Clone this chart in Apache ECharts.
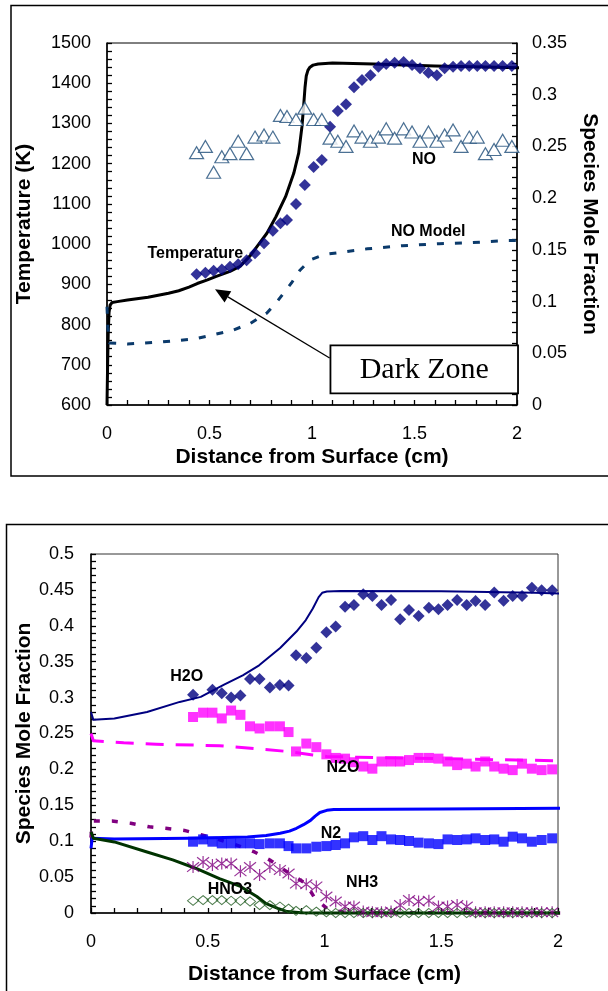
<!DOCTYPE html>
<html>
<head>
<meta charset="utf-8">
<script src="https://cdn.jsdelivr.net/npm/echarts@6/dist/echarts.min.js"></script>
<style>
  html, body { margin: 0; padding: 0; background: #fff; }
  #chart { width: 608px; height: 991px; }
</style>
</head>
<body>
<div id="chart"></div>
<script>
// Probe positions (cm from the burning surface) shared by every measured profile
const xPos = [0.437, 0.48, 0.52, 0.56, 0.6, 0.64, 0.681, 0.722, 0.766, 0.809,
              0.846, 0.878, 0.922, 0.965, 1.008, 1.048, 1.088, 1.126, 1.166, 1.205,
              1.244, 1.285, 1.324, 1.362, 1.403, 1.447, 1.488, 1.527, 1.568, 1.609,
              1.647, 1.688, 1.727, 1.767, 1.806, 1.846, 1.888, 1.93, 1.975];

// ---- Upper panel: temperature (K) and NO mole fraction ----
const tempMeasured = [925, 929, 934, 937, 944, 950, 960, 977, 1002, 1033,
                      1052, 1060, 1100, 1147, 1192, 1209, 1292, 1331, 1348, 1390,
                      1408, 1420, 1441, 1448, 1451, 1453, 1445, 1437, 1426, 1420,
                      1437, 1441, 1443, 1443, 1443, 1443, 1443, 1443, 1443];
const noMeasured = [0.244, 0.250, 0.225, 0.240, 0.243, 0.255, 0.243, 0.259, 0.261, 0.259,
                    0.280, 0.279, 0.276, 0.287, 0.276, 0.276, 0.258, 0.255, 0.250, 0.265,
                    0.259, 0.255, 0.259, 0.267, 0.258, 0.267, 0.264, 0.255, 0.264, 0.255,
                    0.261, 0.266, 0.250, 0.259, 0.259, 0.243, 0.247, 0.256, 0.250];
const tempModel = [[0, 600], [0.003, 700], [0.006, 780], [0.01, 830], [0.015, 848], [0.025, 855],
                   [0.05, 857], [0.1, 861], [0.2, 868], [0.3, 878], [0.35, 884], [0.4, 893],
                   [0.44, 902], [0.49, 911], [0.53, 919], [0.6, 932], [0.65, 945], [0.7, 972],
                   [0.745, 1003], [0.78, 1027], [0.824, 1068], [0.871, 1118], [0.911, 1176],
                   [0.935, 1226], [0.951, 1292], [0.959, 1342], [0.966, 1390], [0.972, 1418],
                   [0.98, 1432], [0.99, 1440], [1.005, 1445], [1.03, 1448], [1.1, 1450],
                   [1.3, 1448], [1.6, 1443], [1.9, 1440], [2.03, 1438]];
const noModel = [[0, 0.095], [0.004, 0.075], [0.012, 0.06], [0.1, 0.059], [0.27, 0.061],
                 [0.43, 0.064], [0.52, 0.068], [0.61, 0.072], [0.7, 0.079], [0.78, 0.089],
                 [0.83, 0.1], [0.9, 0.118], [0.94, 0.13], [0.97, 0.136], [1.0, 0.141],
                 [1.04, 0.144], [1.08, 0.146], [1.27, 0.151], [1.44, 0.154], [1.62, 0.156],
                 [1.78, 0.157], [1.95, 0.159], [2.03, 0.159]];

// ---- Lower panel: species mole fractions ----
const h2oMeasured = [0.304, null, 0.311, 0.306, 0.300, 0.303, 0.326, 0.326, 0.314, 0.3175,
                     0.317, 0.359, 0.355, 0.3695, 0.391, 0.399, 0.4266, 0.429, 0.444, 0.4415,
                     0.429, 0.436, 0.409, 0.422, 0.4136, 0.425, 0.423, 0.429, 0.436, 0.429,
                     0.4345, 0.429, 0.4465, 0.435, 0.4415, 0.4415, 0.453, 0.4494, 0.4494];
const n2oMeasured = [0.273, 0.279, 0.279, 0.271, 0.282, 0.276, 0.260, 0.257, 0.260, 0.260,
                     0.252, 0.225, 0.236, 0.231, 0.221, 0.216, 0.215, 0.210, 0.204, 0.201,
                     0.211, 0.211, 0.211, 0.213, 0.216, 0.216, 0.215, 0.211, 0.206, 0.208,
                     0.204, 0.211, 0.204, 0.201, 0.199, 0.208, 0.201, 0.199, 0.200];
const n2Measured = [0.0993, 0.1025, 0.0993, 0.097, 0.097, 0.097, 0.097, 0.096, 0.097, 0.097,
                    0.0932, 0.090, 0.090, 0.0923, 0.0932, 0.0947, 0.097, 0.1054, 0.107, 0.1017,
                    0.107, 0.1025, 0.1017, 0.1003, 0.098, 0.097, 0.096, 0.1025, 0.1017, 0.1025,
                    0.104, 0.1017, 0.1025, 0.0993, 0.1063, 0.104, 0.0993, 0.1017, 0.104];
const nh3Measured = [0.064, 0.071, 0.067, 0.069, 0.069, 0.058, 0.064, 0.053, 0.064, 0.060,
                     0.055, 0.041, 0.040, 0.037, 0.023, 0.016, 0.009, 0.009, 0.002, 0.001,
                     0.001, 0.002, 0.011, 0.018, 0.016, 0.017, 0.009, 0.009, 0.011, 0.009,
                     0.001, 0.001, 0.001, 0.001, 0.001, 0.001, 0.001, 0.001, 0.001];
const hno3Measured = [0.017, 0.018, 0.018, 0.018, 0.017, 0.017, 0.016, 0.011, 0.011, 0.009,
                      0.006, 0.003, 0.004, 0.002, 0.001, 0, 0, 0, 0, 0,
                      0, 0, 0, 0, 0, 0, 0, 0, 0, 0,
                      0, 0, 0, 0, 0, 0, 0, 0, 0];

const h2oModel = [[0, 0.28], [0.01, 0.269], [0.1, 0.271], [0.24, 0.28], [0.38, 0.294],
                  [0.47, 0.301], [0.57, 0.318], [0.65, 0.331], [0.72, 0.345], [0.81, 0.369],
                  [0.88, 0.392], [0.92, 0.408], [0.95, 0.424], [0.975, 0.44], [0.99, 0.446],
                  [1.01, 0.4478], [1.07, 0.4485], [1.5, 0.448], [1.9, 0.446], [2.02, 0.445]];
const n2oModel = [[0, 0.25], [0.01, 0.24], [0.14, 0.237], [0.28, 0.235], [0.55, 0.233],
                  [0.7, 0.229], [0.84, 0.225], [0.95, 0.22], [1.01, 0.218], [1.14, 0.217],
                  [1.5, 0.215], [1.82, 0.213], [2.02, 0.212]];
const n2Model = [[0, 0.09], [0.005, 0.104], [0.1, 0.103], [0.42, 0.104], [0.67, 0.106],
                 [0.75, 0.108], [0.81, 0.111], [0.85, 0.114], [0.88, 0.118], [0.91, 0.123],
                 [0.94, 0.129], [0.96, 0.135], [0.98, 0.14], [1.01, 0.143], [1.04, 0.144],
                 [1.5, 0.145], [2.02, 0.146]];
const nh3Model = [[0, 0.105], [0.006, 0.128], [0.09, 0.128], [0.17, 0.125], [0.25, 0.12],
                  [0.32, 0.118], [0.4, 0.115], [0.47, 0.109], [0.55, 0.102], [0.62, 0.095],
                  [0.7, 0.085], [0.77, 0.073], [0.85, 0.055], [0.92, 0.041], [0.96, 0.02],
                  [1.02, 0.004], [1.1, 0.0005], [2.02, 0]];
const hno3Model = [[0, 0.113], [0.01, 0.104], [0.1, 0.099], [0.24, 0.085], [0.35, 0.074],
                   [0.45, 0.062], [0.55, 0.048], [0.64, 0.037], [0.71, 0.023], [0.75, 0.013],
                   [0.8, 0.0065], [0.84, 0.002], [0.9, 0.0004], [1.0, 0], [2.02, 0]];

// Annotation anchors, in data units of each panel
const topNotes = [
  { text: 'Temperature', at: [0.431, 977] },
  { text: 'NO', at: [1.546, 1209] },
  { text: 'NO Model', at: [1.567, 1031] }
];
const bottomNotes = [
  { text: 'H2O', at: [0.41, 0.329] },
  { text: 'N2O', at: [1.079, 0.202] },
  { text: 'N2', at: [1.028, 0.110] },
  { text: 'NH3', at: [1.161, 0.042] },
  { text: 'HNO3', at: [0.595, 0.033] }
];
const darkZoneBox = { from: [1.09, 748], to: [2.005, 629], label: 'Dark Zone' };
const darkZoneArrow = { from: [1.086, 717], to: [0.527, 888] };

const FONT = 'Liberation Sans, Arial, Helvetica, sans-serif';
const pairs = (ys) => xPos.map((x, i) => [x, ys[i]]).filter(p => p[1] !== null);
const plainNumber = (v) => String(Math.round(v * 1000) / 1000);

function axisCommon(extra, labelMargin) {
  return Object.assign({
    type: 'value',
    axisLine: { show: true, onZero: false, lineStyle: { color: '#000', width: 1.5 } },
    axisTick: { show: true, inside: true, length: 5, lineStyle: { color: '#000', width: 1.3 } },
    minorTick: { show: true, splitNumber: 5, length: 5, lineStyle: { color: '#000', width: 1.3 } },
    splitLine: { show: false },
    axisLabel: { color: '#000', fontFamily: FONT, fontSize: 18, margin: labelMargin, formatter: plainNumber },
    nameLocation: 'middle',
    nameMoveOverlap: false,
    nameTextStyle: { color: '#000', fontFamily: FONT, fontSize: 21, fontWeight: 'bold' }
  }, extra);
}

const chart = echarts.init(document.getElementById('chart'), null, { renderer: 'canvas', width: 608, height: 991 });

const lineSeries = (name, data, x, y, color, width, dash) => ({
  name, type: 'line', data, xAxisIndex: x, yAxisIndex: y,
  showSymbol: false, symbol: 'none', clip: false, smooth: false,
  lineStyle: { color, width, type: dash || 'solid', cap: 'butt', join: 'round' }, z: 2
});
const scatterSeries = (name, data, x, y, symbol, size, style) => ({
  name, type: 'scatter', data, xAxisIndex: x, yAxisIndex: y,
  symbol, symbolSize: size, clip: false, itemStyle: style, z: 3
});

const option = {
  animation: false,
  backgroundColor: '#fff',
  grid: [
    { left: 107, top: 43, width: 420, height: 362, show: true, borderColor: '#000', borderWidth: 1 },
    { left: 91, top: 554, width: 467, height: 359, show: true, borderColor: '#333', borderWidth: 1 }
  ],
  xAxis: [
    axisCommon({ gridIndex: 0, min: 0, max: 2, interval: 0.5,
      name: 'Distance from Surface (cm)', nameGap: 42 }, 20),
    axisCommon({ gridIndex: 1, min: 0, max: 2, interval: 0.5,
      name: 'Distance from Surface (cm)', nameGap: 51 }, 20)
  ],
  yAxis: [
    axisCommon({ gridIndex: 0, position: 'left', min: 600, max: 1500, interval: 100,
      name: 'Temperature (K)', nameGap: 72 }, 16),
    axisCommon({ gridIndex: 0, position: 'right', min: 0, max: 0.35, interval: 0.05,
      name: 'Species Mole Fraction', nameRotate: -90, nameGap: 62 }, 15),
    axisCommon({ gridIndex: 1, position: 'left', min: 0, max: 0.5, interval: 0.05,
      name: 'Species Mole Fraction', nameGap: 56 }, 17)
  ],
  series: [
    // upper panel
    lineSeries('Temperature model', tempModel, 0, 0, '#000', 3),
    lineSeries('NO model', noModel, 0, 1, '#0b3a6b', 3, [7, 11]),
    scatterSeries('Temperature', pairs(tempMeasured), 0, 0, 'diamond', 12, { color: '#000080' }),
    scatterSeries('NO', pairs(noMeasured), 0, 1, 'triangle', [14, 12],
      { color: '#fff', borderColor: '#1f4e79', borderWidth: 1.2 }),
    // lower panel
    lineSeries('H2O model', h2oModel, 1, 2, '#000080', 2),
    lineSeries('N2O model', n2oModel, 1, 2, '#ff00ff', 3, [18, 12]),
    lineSeries('NH3 model', nh3Model, 1, 2, '#800080', 3.5, [6, 12]),
    lineSeries('N2 model', n2Model, 1, 2, '#0000ff', 3),
    lineSeries('HNO3 model', hno3Model, 1, 2, '#003300', 3),
    scatterSeries('H2O', pairs(h2oMeasured), 1, 2, 'diamond', 12, { color: '#000080' }),
    scatterSeries('N2O', pairs(n2oMeasured), 1, 2, 'rect', 10, { color: '#ff00ff' }),
    scatterSeries('N2', pairs(n2Measured), 1, 2, 'rect', 10, { color: '#0000ff' }),
    scatterSeries('NH3', pairs(nh3Measured), 1, 2, 'path://M2,2L18,18M18,2L2,18M10,0L10,20', 12,
      { color: 'rgba(0,0,0,0)', borderColor: '#800080', borderWidth: 1.2 }),
    scatterSeries('HNO3', pairs(hno3Measured), 1, 2, 'diamond', [11, 9],
      { color: 'rgba(0,0,0,0)', borderColor: '#1e5a1e', borderWidth: 1 })
  ]
};
chart.setOption(option);

// Annotations placed through the axes' own scales
const topAxes = { xAxisIndex: 0, yAxisIndex: 0 };
const bottomAxes = { xAxisIndex: 1, yAxisIndex: 2 };
const noteText = (p, text) => ({
  type: 'text', x: p[0], y: p[1], z: 10,
  style: { text, fill: '#000', font: 'bold 16px ' + FONT, align: 'center', verticalAlign: 'middle' }
});

const graphics = [];
topNotes.forEach(n => graphics.push(noteText(chart.convertToPixel(topAxes, n.at), n.text)));
bottomNotes.forEach(n => graphics.push(noteText(chart.convertToPixel(bottomAxes, n.at), n.text)));

// Arrow pointing into the dark zone
const a0 = chart.convertToPixel(topAxes, darkZoneArrow.from);
const a1 = chart.convertToPixel(topAxes, darkZoneArrow.to);
const ang = Math.atan2(a1[1] - a0[1], a1[0] - a0[0]);
const headLen = 15, headHalf = 6.5;
const baseX = a1[0] - headLen * Math.cos(ang), baseY = a1[1] - headLen * Math.sin(ang);
graphics.push({ type: 'line', z: 10, shape: { x1: a0[0], y1: a0[1], x2: baseX, y2: baseY },
  style: { stroke: '#000', lineWidth: 1.3 } });
graphics.push({ type: 'polygon', z: 10, shape: { points: [
  [a1[0], a1[1]],
  [baseX + headHalf * Math.sin(ang), baseY - headHalf * Math.cos(ang)],
  [baseX - headHalf * Math.sin(ang), baseY + headHalf * Math.cos(ang)]
] }, style: { fill: '#000' } });

// Boxed "Dark Zone" caption
const b0 = chart.convertToPixel(topAxes, darkZoneBox.from);
const b1 = chart.convertToPixel(topAxes, darkZoneBox.to);
graphics.push({ type: 'rect', z: 11,
  shape: { x: b0[0], y: b0[1], width: b1[0] - b0[0], height: b1[1] - b0[1] },
  style: { fill: '#fff', stroke: '#000', lineWidth: 1.8 } });
graphics.push({ type: 'text', z: 12, x: (b0[0] + b1[0]) / 2, y: (b0[1] + b1[1]) / 2 + 1,
  style: { text: darkZoneBox.label, fill: '#000', font: '30px Liberation Serif, Times New Roman, serif',
           align: 'center', verticalAlign: 'middle' } });

// Panel frames (both run off the right edge of the page)
graphics.push({ type: 'polyline', z: 1, silent: true,
  shape: { points: [[612, 5.5], [11, 5.5], [11, 476], [612, 476]] },
  style: { fill: 'none', stroke: '#000', lineWidth: 1.5 } });
graphics.push({ type: 'polyline', z: 1, silent: true,
  shape: { points: [[6.5, 991], [6.5, 524.5], [612, 524.5]] },
  style: { fill: 'none', stroke: '#000', lineWidth: 1.5 } });

chart.setOption({ graphic: graphics });
</script>
</body>
</html>
